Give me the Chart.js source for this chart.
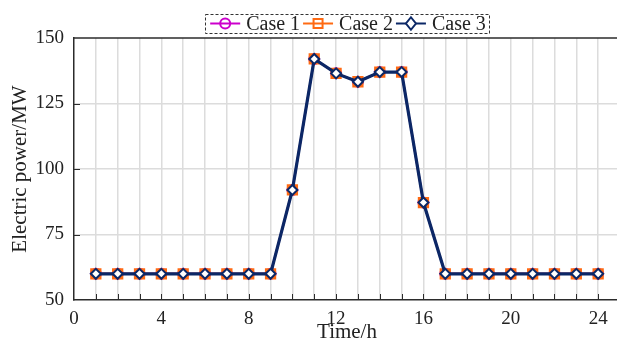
<!DOCTYPE html>
<html>
<head>
<meta charset="utf-8">
<script src="https://cdn.jsdelivr.net/npm/chart.js@4.4.1/dist/chart.umd.min.js"></script>
<style>
html,body{margin:0;padding:0;background:#fff;overflow:hidden;width:617px;height:345px;}
#wrap{width:620px;height:345px;position:relative;}
</style>
</head>
<body>
<div id="wrap"><canvas id="c" width="620" height="345"></canvas></div>
<script>
const hours = [1,2,3,4,5,6,7,8,9,10,11,12,13,14,15,16,17,18,19,20,21,22,23,24];
const case1 = [60,60,60,60,60,60,60,60,60,92,142,136.5,133.3,137,137,87.2,60,60,60,60,60,60,60,60];
const case2 = [60,60,60,60,60,60,60,60,60,92,142,136.5,133.3,137,137,87.2,60,60,60,60,60,60,60,60];
const case3 = [60,60,60,60,60,60,60,60,60,92,142,136.5,133.3,137,137,87.2,60,60,60,60,60,60,60,60];
const seriesNames = ['Case 1','Case 2','Case 3'];
const xTickLabels = [0,4,8,12,16,20,24];
const yTickLabels = [50,75,100,125,150];

const FONT = '"Liberation Serif","Times New Roman",serif';
const C1 = '#cc00cc', C2 = '#ff6a13', C3 = '#0b2766';
const AXIS = '#2b2b2b';

function pts(arr){ return hours.map((h,i)=>({x:h,y:arr[i]})); }

function drawMarker(ctx, style, x, y, r, color, fill){
  ctx.save();
  ctx.strokeStyle = color; ctx.lineWidth = 2;
  ctx.beginPath();
  if(style==='circle'){ ctx.arc(x,y,r,0,Math.PI*2); }
  else if(style==='rect'){ ctx.rect(x-r,y-r,2*r,2*r); }
  else { ctx.moveTo(x,y-r*1.25); ctx.lineTo(x+r,y); ctx.lineTo(x,y+r*1.25); ctx.lineTo(x-r,y); ctx.closePath(); }
  if(fill){ ctx.fillStyle = fill; ctx.fill(); }
  ctx.stroke();
  ctx.restore();
}

const frame = {
  id:'frame',
  afterDraw(chart){
    const ctx = chart.ctx, a = chart.chartArea;
    const xs = chart.scales.x, ys = chart.scales.y;
    ctx.save();
    ctx.strokeStyle = AXIS; ctx.lineWidth = 1.5;
    ctx.beginPath(); ctx.moveTo(a.left, a.top); ctx.lineTo(a.right, a.top); ctx.stroke();
    ctx.lineWidth = 1;
    ctx.beginPath();
    for(let v=1; v<=24; v++){ const px = Math.round(xs.getPixelForValue(v))+0.5; ctx.moveTo(px,a.bottom); ctx.lineTo(px,a.bottom-6); }
    yTickLabels.forEach(v=>{ if(v===50||v===150) return; const py = Math.round(ys.getPixelForValue(v))+0.5; ctx.moveTo(a.left,py); ctx.lineTo(a.left+6,py); });
    ctx.stroke();
    // legend
    ctx.font = '20px ' + FONT;
    const styles = ['circle','rect','rectRot'];
    const colors = [C1,C2,C3];
    const lineW = 30, gapLT = 6, gapTL = 3;
    const widths = seriesNames.map(s=>ctx.measureText(s).width);
    const total = 5 + widths.reduce((s,w)=>s+w,0) + 3*(lineW+gapLT) + 2*gapTL + 3;
    const bx = (a.left + a.right)/2 - total/2, by = 14, bh = 19;
    ctx.setLineDash([3,2]); ctx.strokeStyle = '#333'; ctx.lineWidth = 1;
    ctx.fillStyle = '#fff';
    ctx.fillRect(bx,by,total,bh);
    ctx.strokeRect(Math.round(bx)+0.5,by+0.5,Math.round(total),bh);
    ctx.setLineDash([]);
    let x = bx + 5; const cy = by + bh/2;
    seriesNames.forEach((s,i)=>{
      ctx.strokeStyle = colors[i]; ctx.lineWidth = 2;
      ctx.beginPath(); ctx.moveTo(x,cy); ctx.lineTo(x+lineW,cy); ctx.stroke();
      const fill = i===2 ? '#fff' : null;
      drawMarker(ctx, styles[i], x+lineW/2, cy, i===1 ? 4.5 : 5, colors[i], fill);
      x += lineW + gapLT;
      ctx.fillStyle = '#222'; ctx.textBaseline = 'middle'; ctx.textAlign = 'left';
      ctx.fillText(s, x, cy+1);
      x += widths[i] + gapTL;
    });
    ctx.restore();
  }
};

new Chart(document.getElementById('c'), {
  type:'line',
  data:{
    datasets:[
      {label:seriesNames[0], data:pts(case1), borderColor:C1, backgroundColor:'rgba(0,0,0,0)', borderWidth:2,
       pointStyle:'circle', pointRadius:5, pointBorderWidth:2, pointBorderColor:C1, pointBackgroundColor:'#fff', order:3},
      {label:seriesNames[1], data:pts(case2), borderColor:C2, backgroundColor:'rgba(0,0,0,0)', borderWidth:2,
       pointStyle:'rect', pointRadius:6.2, pointBorderWidth:2.5, pointBorderColor:C2, pointBackgroundColor:C2, order:2},
      {label:seriesNames[2], data:pts(case3), borderColor:C3, backgroundColor:'rgba(0,0,0,0)', borderWidth:3.2,
       pointStyle:'rectRot', pointRadius:5, pointBorderWidth:2, pointBorderColor:C3, pointBackgroundColor:'#fff', order:1}
    ]
  },
  options:{
    responsive:false, animation:false, devicePixelRatio:1,
    layout:{autoPadding:false, padding:{left:0,right:0,top:38,bottom:0}},
    plugins:{legend:{display:false}, tooltip:{enabled:false}},
    elements:{line:{tension:0}},
    scales:{
      x:{
        type:'linear', min:0, max:25,
        afterBuildTicks(s){ const t=[]; for(let v=0; v<=24; v++) t.push({value:v}); s.ticks=t; },
        afterFit(s){ s.height = 45; s.paddingRight = 0; s.paddingLeft = 0; },
        ticks:{ autoSkip:false, maxRotation:0, padding:8, color:'#222',
          font:{family:FONT,size:19},
          callback:(v)=> xTickLabels.includes(v) ? String(v) : '' },
        grid:{ drawTicks:false, color:(c)=> c.tick && c.tick.value===0 ? 'rgba(0,0,0,0)' : '#dcdcdc', lineWidth:1.5 },
        border:{ display:true, color:AXIS, width:1.5 },
        title:{ display:true, text:'Time/h', color:'#222', font:{family:FONT,size:21}, padding:{top:0,bottom:0} }
      },
      y:{
        min:50, max:150,
        afterBuildTicks(s){ s.ticks = yTickLabels.map(v=>({value:v})); },
        afterFit(s){ s.width = 74; s.paddingTop = 0; s.paddingBottom = 0; },
        ticks:{ padding:10, color:'#222', font:{family:FONT,size:19} },
        grid:{ drawTicks:false, color:(c)=> (c.tick && (c.tick.value===50||c.tick.value===150)) ? 'rgba(0,0,0,0)' : '#dcdcdc', lineWidth:1.5 },
        border:{ display:true, color:AXIS, width:1.5 },
        title:{ display:true, text:'Electric power/MW', color:'#222', font:{family:FONT,size:21}, padding:{top:8,bottom:0} }
      }
    }
  },
  plugins:[frame]
});
</script>
</body>
</html>
